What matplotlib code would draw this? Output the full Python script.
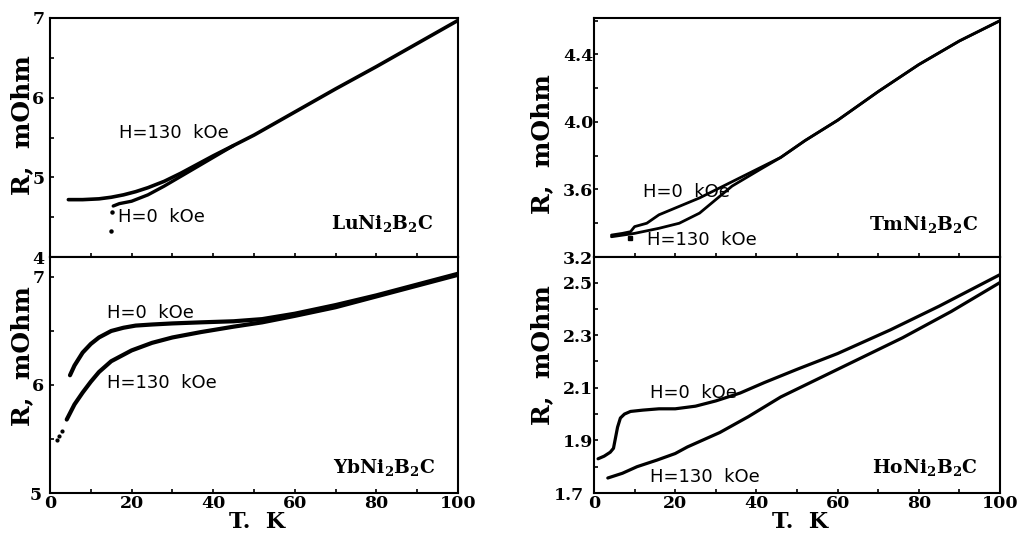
import matplotlib
matplotlib.use("Agg")
import matplotlib.pyplot as plt
from matplotlib.ticker import MultipleLocator, FixedLocator
from matplotlib.transforms import ScaledTranslation

plt.rcParams['mathtext.fontset'] = 'dejavuserif'

# ---------------- data ----------------
# LuNi2B2C
lu_T_130 = [4.5, 8, 12, 15, 18, 21, 24, 28, 32, 36, 40, 45, 50, 60, 70, 80, 90, 100]
lu_R_130 = [4.72, 4.72, 4.73, 4.75, 4.78, 4.82, 4.87, 4.95, 5.05, 5.16, 5.27, 5.40, 5.53, 5.82, 6.11, 6.39, 6.68, 6.97]
lu_T_0 = [15.5, 17, 20, 24, 28, 32, 36, 40, 45]
lu_R_0 = [4.64, 4.67, 4.70, 4.78, 4.89, 5.01, 5.13, 5.25, 5.40]
lu_T_0_dots = [15.3, 15.0]
lu_R_0_dots = [4.57, 4.33]
lu_yticks = [4, 5, 6, 7]

# TmNi2B2C
tm_T_0 = [4.3, 7, 9, 10, 13, 16, 21, 26, 31, 36, 41, 46, 52, 60, 70, 80, 90, 100]
tm_R_0 = [3.33, 3.34, 3.35, 3.38, 3.40, 3.45, 3.50, 3.55, 3.61, 3.67, 3.73, 3.79, 3.89, 4.01, 4.18, 4.34, 4.48, 4.60]
tm_T_130 = [4.3, 10, 16, 21, 26, 31, 34, 41, 46, 52, 60, 70, 80, 90, 100]
tm_R_130 = [3.32, 3.34, 3.37, 3.40, 3.46, 3.56, 3.62, 3.72, 3.79, 3.89, 4.01, 4.18, 4.34, 4.48, 4.60]
tm_T_dots = [8.9]
tm_R_dots = [3.31]
tm_yticks = [3.2, 3.6, 4.0, 4.4]

# YbNi2B2C
yb_T_0 = [4.9, 6, 8, 10, 12, 15, 18, 21, 25, 30, 37, 45, 52, 60, 70, 80, 90, 100]
yb_R_0 = [6.09, 6.18, 6.30, 6.38, 6.44, 6.50, 6.53, 6.55, 6.56, 6.57, 6.58, 6.59, 6.61, 6.66, 6.74, 6.83, 6.93, 7.03]
yb_T_130 = [4.1, 6, 8, 10, 12, 15, 20, 25, 30, 37, 45, 52, 60, 70, 80, 90, 100]
yb_R_130 = [5.68, 5.82, 5.93, 6.03, 6.12, 6.22, 6.32, 6.39, 6.44, 6.49, 6.54, 6.58, 6.64, 6.72, 6.82, 6.92, 7.02]
yb_T_dots = [1.6, 2.3, 3.0]
yb_R_dots = [5.49, 5.53, 5.57]
yb_yticks = [5, 6, 7]

# HoNi2B2C
ho_T_0 = [1, 2.5, 4, 4.8, 5.3, 5.8, 6.5, 7.5, 9, 12, 16, 20, 25, 30, 36, 42, 50, 60, 73, 85, 100]
ho_R_0 = [1.83, 1.84, 1.855, 1.87, 1.91, 1.95, 1.985, 2.0, 2.01, 2.015, 2.02, 2.02, 2.03, 2.05, 2.08, 2.12, 2.17, 2.23, 2.32, 2.41, 2.53]
ho_T_130 = [3.4, 7, 10.6, 15.5, 20, 23, 31, 38, 46, 60, 76, 88, 100]
ho_R_130 = [1.757, 1.775, 1.80, 1.825, 1.85, 1.875, 1.93, 1.99, 2.065, 2.17, 2.29, 2.39, 2.50]
ho_yticks = [1.7, 1.9, 2.1, 2.3, 2.5]

x_ticks = [0, 20, 40, 60, 80, 100]

# ---------------- figure ----------------
fig = plt.figure(figsize=(10.21, 5.33), dpi=100)
W, H = 1021, 533

def axes_px(x0, x1, ytop, ybot):
    return fig.add_axes([x0 / W, 1 - ybot / H, (x1 - x0) / W, (ybot - ytop) / H])

ax_lu = axes_px(50, 458, 18, 257)
ax_yb = axes_px(50, 458, 257, 493)
ax_tm = axes_px(594, 1000, 18, 257)
ax_ho = axes_px(594, 1000, 257, 493)

lab_font = dict(family='DejaVu Sans', size=13)

def style(ax, ylim, yticks, ymin, yfmt, bottom_row, ypad, ylab_xy):
    ax.set_xlim(0, 100)
    ax.set_ylim(*ylim)
    ax.set_xticks(x_ticks)
    ax.xaxis.set_minor_locator(MultipleLocator(10))
    ax.yaxis.set_major_locator(FixedLocator(yticks))
    ax.yaxis.set_minor_locator(MultipleLocator(ymin))
    ax.yaxis.set_major_formatter(plt.FormatStrFormatter(yfmt))
    ax.tick_params(which='both', direction='in', length=3, width=1.2,
                   top=False, right=False)
    ax.tick_params(axis='y', pad=ypad)
    ax.tick_params(axis='x', pad=1.5)
    for s in ax.spines.values():
        s.set_linewidth(1.5)
    for lbl in ax.get_xticklabels() + ax.get_yticklabels():
        lbl.set_fontfamily('DejaVu Serif')
        lbl.set_fontweight('bold')
        lbl.set_fontsize(12.5)
    if bottom_row:
        ax.set_xlabel('T.  K', fontfamily='DejaVu Serif', fontweight='bold',
                      fontsize=16, va='center')
        ax.xaxis.set_label_coords(0.507, -0.123)
    else:
        ax.tick_params(axis='x', labelbottom=False)
    ax.set_ylabel('R,  mOhm', fontfamily='DejaVu Serif', fontweight='bold',
                  fontsize=18, va='center')
    ax.yaxis.set_label_coords(*ylab_xy)

style(ax_lu, (4, 7), lu_yticks, 0.5, '%g', False, 4, (-0.069, 0.552))
style(ax_yb, (5, 7.185), yb_yticks, 0.5, '%g', True, 4, (-0.069, 0.58))
style(ax_tm, (3.2, 4.616), tm_yticks, 0.2, '%.1f', False, 0.5, (-0.128, 0.473))
style(ax_ho, (1.7, 2.597), ho_yticks, 0.1, '%.1f', True, 0.5, (-0.128, 0.585))

k = dict(color='black', solid_capstyle='round', solid_joinstyle='round')

# Lu
ax_lu.plot(lu_T_130, lu_R_130, lw=2.6, **k)
ax_lu.plot(lu_T_0, lu_R_0, lw=2.4, **k)
ax_lu.plot(lu_T_0_dots, lu_R_0_dots, 'o', ms=2.2, color='black')
ax_lu.text(17, 5.56, 'H=130  kOe', ha='left', va='center', **lab_font)
ax_lu.text(16.7, 4.50, 'H=0  kOe', ha='left', va='center', **lab_font)
ax_lu.text(0.94, 0.14, r'$\mathbf{LuNi_2B_2C}$', transform=ax_lu.transAxes,
           ha='right', va='center', fontsize=13.5)

# Tm
ax_tm.plot(tm_T_0, tm_R_0, lw=2.0, **k)
ax_tm.plot(tm_T_130, tm_R_130, lw=2.0, **k)
ax_tm.plot(tm_T_dots, tm_R_dots, 's', ms=2.2, color='black')
ax_tm.text(12.1, 3.585, 'H=0  kOe', ha='left', va='center', **lab_font)
ax_tm.text(13.0, 3.30, 'H=130  kOe', ha='left', va='center', **lab_font)
ax_tm.text(0.946, 0.134, r'$\mathbf{TmNi_2B_2C}$', transform=ax_tm.transAxes,
           ha='right', va='center', fontsize=13.5)

# Yb
ax_yb.plot(yb_T_0, yb_R_0, lw=3.0, **k)
ax_yb.plot(yb_T_130, yb_R_130, lw=3.0, **k)
ax_yb.plot(yb_T_dots, yb_R_dots, 'o', ms=2.0, color='black')
ax_yb.text(14.0, 6.67, 'H=0  kOe', ha='left', va='center', **lab_font)
ax_yb.text(14.0, 6.02, 'H=130  kOe', ha='left', va='center', **lab_font)
ax_yb.text(0.944, 0.11, r'$\mathbf{YbNi_2B_2C}$', transform=ax_yb.transAxes,
           ha='right', va='center', fontsize=13.5)

# Ho
ax_ho.plot(ho_T_0, ho_R_0, lw=2.3, **k)
ax_ho.plot(ho_T_130, ho_R_130, lw=2.3, **k)
ax_ho.text(13.8, 2.08, 'H=0  kOe', ha='left', va='center', **lab_font)
ax_ho.text(13.8, 1.76, 'H=130  kOe', ha='left', va='center', **lab_font)
ax_ho.text(0.946, 0.11, r'$\mathbf{HoNi_2B_2C}$', transform=ax_ho.transAxes,
           ha='right', va='center', fontsize=13.5)

# nudge the lowest labels away from the x-axis "0" labels, as in the original
fig.canvas.draw()
for ax, dx in ((ax_ho, -9), (ax_yb, -3)):
    lab = ax.yaxis.get_major_ticks()[0].label1
    lab.set_transform(lab.get_transform() + ScaledTranslation(dx / 100, 0, fig.dpi_scale_trans))

fig.savefig('out.png', dpi=100)
